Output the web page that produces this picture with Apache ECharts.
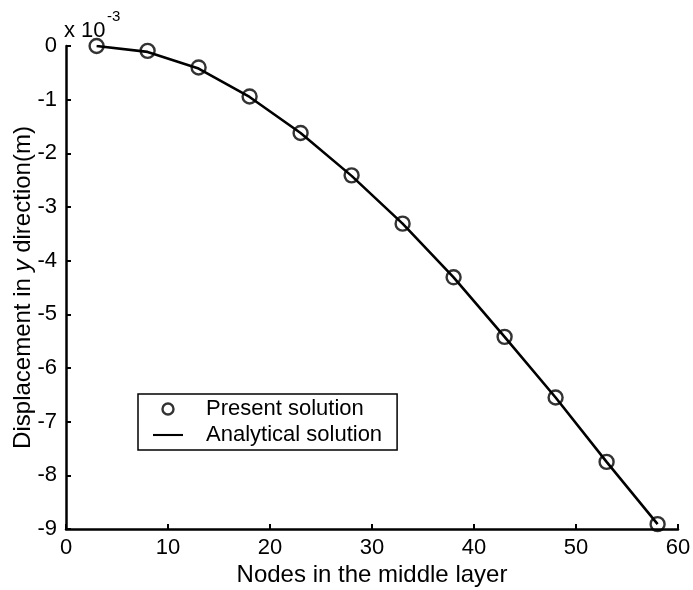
<!DOCTYPE html>
<html>
<head>
<meta charset="utf-8">
<script src="https://cdn.jsdelivr.net/npm/echarts@6/dist/echarts.min.js"></script>
<style>
  html,body{margin:0;padding:0;background:#fff;}
  #chart{width:693px;height:590px;}
</style>
</head>
<body>
<div id="chart"></div>
<script>
// nodes along the middle layer
const nodes = [3, 8, 13, 18, 23, 28, 33, 38, 43, 48, 53, 58];
// displacement (x 10^-3 m)
const present = [0, -0.09, -0.40, -0.94, -1.62, -2.41, -3.31, -4.31, -5.42, -6.55, -7.75, -8.91];
const analytical = [0, -0.11, -0.42, -0.95, -1.62, -2.42, -3.31, -4.31, -5.42, -6.55, -7.75, -8.91];
const xTicks = [0, 10, 20, 30, 40, 50, 60];
const yTicks = [0, -1, -2, -3, -4, -5, -6, -7, -8, -9];

const FONT = "'Liberation Sans', Arial, Helvetica, sans-serif";

const chart = echarts.init(document.getElementById('chart'));

const axisCommon = {
    axisLine: { onZero: false, lineStyle: { color: '#000', width: 2.5 } },
    axisTick: { inside: true, length: 5, lineStyle: { color: '#000', width: 2 } },
    axisLabel: { color: '#000', fontSize: 22, fontFamily: FONT },
    splitLine: { show: false },
    nameMoveOverlap: false,
    nameTextStyle: { color: '#000', fontSize: 24, fontFamily: FONT }
};

const option = {
    animation: false,
    backgroundColor: '#fff',
    grid: { left: 66, right: 15, top: 46, bottom: 61, outerBoundsMode: 'none' },
    xAxis: Object.assign({}, axisCommon, {
        type: 'value',
        min: xTicks[0],
        max: xTicks[xTicks.length - 1],
        interval: 10,
        name: 'Nodes in the middle layer',
        nameLocation: 'middle',
        nameGap: 34,
        axisLabel: Object.assign({}, axisCommon.axisLabel, { margin: 8 })
    }),
    yAxis: Object.assign({}, axisCommon, {
        type: 'value',
        min: yTicks[yTicks.length - 1],
        max: yTicks[0],
        interval: 1,
        name: 'Displacement in {i|y} direction(m)',
        nameLocation: 'middle',
        nameGap: 31,
        nameTextStyle: {
            color: '#000', fontSize: 24, fontFamily: FONT,
            rich: { i: { fontStyle: 'italic', fontSize: 24, fontFamily: FONT, color: '#000' } }
        },
        axisLabel: Object.assign({}, axisCommon.axisLabel, { margin: 9 })
    }),
    legend: {
        orient: 'vertical',
        left: 138,
        top: 394,
        padding: [4, 15, 4, 15],
        borderColor: '#000',
        borderWidth: 1.5,
        itemWidth: 30,
        itemHeight: 11,
        itemGap: 4,
        symbolKeepAspect: true,
        textStyle: { color: '#000', fontSize: 22, fontFamily: FONT, lineHeight: 22, padding: [0, 0, 0, 18] },
        data: [
            { name: 'Present solution', icon: 'circle',
              itemStyle: { color: '#fff', borderColor: '#000', borderWidth: 2.4 } },
            { name: 'Analytical solution', icon: 'path://M0,0L1,0L1,0.07L0,0.07Z',
              itemStyle: { color: '#000', borderWidth: 0 } }
        ]
    },
    graphic: [
        { type: 'text', left: 64, top: 20,
          style: { text: 'x 10', font: '22px ' + FONT, fill: '#000' } },
        { type: 'text', left: 107, top: 9,
          style: { text: '-3', font: '15px ' + FONT, fill: '#000' } }
    ],
    series: [
        {
            name: 'Analytical solution',
            type: 'line',
            symbol: 'none',
            data: nodes.map((x, i) => [x, analytical[i]]),
            lineStyle: { color: '#000', width: 2.6 },
            itemStyle: { color: '#000' },
            z: 2
        },
        {
            name: 'Present solution',
            type: 'scatter',
            symbol: 'circle',
            symbolSize: 14,
            data: nodes.map((x, i) => [x, present[i]]),
            itemStyle: { color: 'rgba(255,255,255,0)', borderColor: '#000', borderWidth: 2.4 },
            z: 3
        }
    ]
};

chart.setOption(option);
</script>
</body>
</html>
